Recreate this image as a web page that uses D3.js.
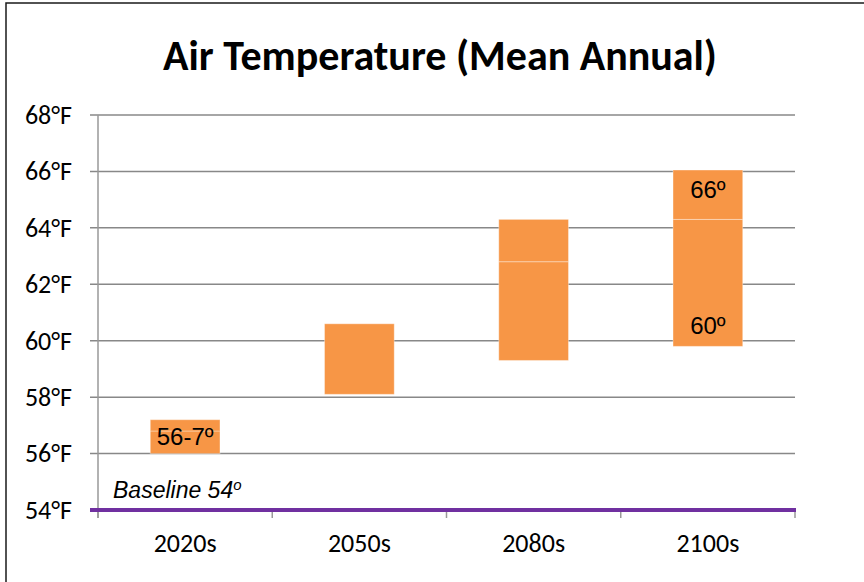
<!DOCTYPE html>
<html>
<head>
<meta charset="utf-8">
<script src="https://cdn.jsdelivr.net/npm/d3@7"></script>
<style>
  body { margin: 0; background: #fff; }
  svg { display: block; }
</style>
</head>
<body>
<svg id="chart" width="864" height="582"></svg>
<script>
// Projected mean annual air temperature ranges (°F) by period
const categories = ["2020s", "2050s", "2080s", "2100s"];
const lowValues  = [56.0, 58.1, 59.3, 59.8];
const midValues  = [56.8, null, 62.8, 64.3];
const highValues = [57.2, 60.6, 64.3, 66.05];
const yTicks = [54, 56, 58, 60, 62, 64, 66, 68];
const baselineValue = 54;
const chartTitle = "Air Temperature (Mean Annual)";
// Which bars carry value labels, and where
const valueLabels = [
  { category: "2020s", kind: "range" },
  { category: "2100s", kind: "top" },
  { category: "2100s", kind: "bottom" }
];

const svg = d3.select("#chart");
const W = 864, H = 582;
const plot = { left: 98, right: 795, top: 115, bottom: 510 };

const y = d3.scaleLinear().domain([54, 68]).range([plot.bottom, plot.top]);
const x = d3.scaleBand().domain(categories)
  .range([plot.left, plot.right]).paddingInner(0.6).paddingOuter(0.3);
const step = x.step();

const axisFont = "Carlito, Lato, sans-serif";

// Chart frame
svg.append("path")
  .attr("d", `M6,${H} V3 H${W}`)
  .attr("fill", "none").attr("stroke", "#1a1a1a").attr("stroke-width", 1.5);

// Title
svg.append("text")
  .attr("x", 440).attr("y", 70)
  .attr("text-anchor", "middle")
  .attr("font-family", axisFont).attr("font-weight", "bold")
  .attr("font-size", 42).attr("fill", "#000")
  .text(chartTitle);

// Horizontal gridlines (extend left of the axis as tick marks)
svg.append("g").selectAll("line")
  .data(yTicks.filter(d => d !== baselineValue))
  .join("line")
  .attr("x1", plot.left - 8).attr("x2", plot.right)
  .attr("y1", d => y(d)).attr("y2", d => y(d))
  .attr("stroke", "#888").attr("stroke-width", 1.5);

// Vertical axis line
svg.append("line")
  .attr("x1", plot.left).attr("x2", plot.left)
  .attr("y1", y(68)).attr("y2", plot.bottom + 8)
  .attr("stroke", "#999").attr("stroke-width", 1.5);

// Category boundary ticks below the baseline
const boundaries = categories.map(c => x(c) - (step - x.bandwidth()) / 2)
  .concat([plot.right]);
svg.append("g").selectAll("line")
  .data(boundaries)
  .join("line")
  .attr("x1", d => d).attr("x2", d => d)
  .attr("y1", plot.bottom).attr("y2", plot.bottom + 8)
  .attr("stroke", "#999").attr("stroke-width", 1.5);

// Y tick labels
const yAxis = svg.append("g")
  .attr("transform", `translate(${plot.left},0)`)
  .call(d3.axisLeft(y).tickValues(yTicks).tickSize(0).tickPadding(26)
    .tickFormat(d => d + "°F"));
yAxis.select(".domain").remove();
yAxis.selectAll("text")
  .attr("font-family", axisFont).attr("font-size", 26).attr("fill", "#000");

// Category labels
const xAxis = svg.append("g")
  .attr("transform", `translate(0,${plot.bottom})`)
  .call(d3.axisBottom(x).tickSize(0).tickPadding(24));
xAxis.select(".domain").remove();
xAxis.selectAll("text")
  .attr("font-family", axisFont).attr("font-size", 26).attr("fill", "#000");

// Floating range bars, split into stacked segments
const segments = [];
categories.forEach((c, i) => {
  const stops = [lowValues[i], midValues[i], highValues[i]].filter(v => v != null);
  for (let k = 0; k < stops.length - 1; k++) {
    segments.push({ category: c, from: stops[k], to: stops[k + 1] });
  }
});
svg.append("g").selectAll("rect")
  .data(segments)
  .join("rect")
  .attr("x", d => x(d.category))
  .attr("width", x.bandwidth())
  .attr("y", d => y(d.to))
  .attr("height", d => y(d.from) - y(d.to))
  .attr("fill", "#F79646")
  .attr("stroke", "rgba(255,255,255,0.35)")
  .attr("stroke-width", 1);

// Baseline
svg.append("line")
  .attr("x1", plot.left - 8).attr("x2", plot.right + 1)
  .attr("y1", y(baselineValue)).attr("y2", y(baselineValue))
  .attr("stroke", "#7030A0").attr("stroke-width", 4);

const baseLabel = svg.append("text")
  .attr("x", 113).attr("y", y(baselineValue) - 12)
  .attr("font-family", "Liberation Sans, Arial, sans-serif")
  .attr("font-style", "italic").attr("font-size", 23).attr("fill", "#000");
baseLabel.append("tspan").text("Baseline " + baselineValue);
baseLabel.append("tspan").attr("dy", -8).attr("font-size", 15).text("o");

// Value labels on bars
svg.append("g").selectAll("text")
  .data(valueLabels)
  .join("text")
  .attr("x", d => x(d.category) + x.bandwidth() / 2)
  .attr("y", d => {
    const i = categories.indexOf(d.category);
    if (d.kind === "range") return (y(lowValues[i]) + y(highValues[i])) / 2 + 8;
    if (d.kind === "top") return y(highValues[i]) + 28;
    return y(lowValues[i]) - 12;
  })
  .attr("text-anchor", "middle")
  .attr("font-family", "Liberation Sans, Arial, sans-serif")
  .attr("font-size", 24).attr("fill", "#000")
  .text(d => {
    const i = categories.indexOf(d.category);
    const lo = Math.round(lowValues[i]), hi = Math.round(highValues[i]);
    if (d.kind === "range") return `${lo}-${hi % 10}º`;
    if (d.kind === "top") return `${hi}º`;
    return `${lo}º`;
  });
</script>
</body>
</html>
